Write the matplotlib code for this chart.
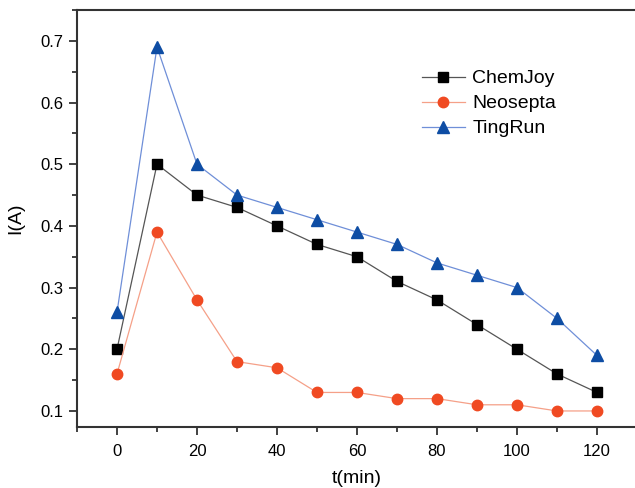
import matplotlib
matplotlib.use("Agg")
import matplotlib.pyplot as plt
from matplotlib.ticker import MultipleLocator

# data
t_min = [0, 10, 20, 30, 40, 50, 60, 70, 80, 90, 100, 110, 120]
chemjoy = [0.20, 0.50, 0.45, 0.43, 0.40, 0.37, 0.35, 0.31, 0.28, 0.24, 0.20, 0.16, 0.13]
neosepta = [0.16, 0.39, 0.28, 0.18, 0.17, 0.13, 0.13, 0.12, 0.12, 0.11, 0.11, 0.10, 0.10]
tingrun = [0.26, 0.69, 0.50, 0.45, 0.43, 0.41, 0.39, 0.37, 0.34, 0.32, 0.30, 0.25, 0.19]

plt.rcParams['font.family'] = ['Liberation Sans', 'DejaVu Sans']

fig = plt.figure(figsize=(6.35, 4.88), dpi=100)
ax = fig.add_axes([77 / 635, 1 - 427 / 488, 560 / 635, 417 / 488])

ax.plot(t_min, chemjoy, color='#555555', lw=0.9, marker='s', ms=6.5,
        mfc='black', mec='black', label='ChemJoy')
ax.plot(t_min, neosepta, color='#F5A088', lw=0.9, marker='o', ms=7.5,
        mfc='#F04A22', mec='#F04A22', label='Neosepta')
ax.plot(t_min, tingrun, color='#6F8FD8', lw=0.9, marker='^', ms=8,
        mfc='#0E4DA4', mec='#0E4DA4', label='TingRun')

ax.set_xlim(-10, 130)
ax.set_ylim(0.074, 0.75)
ax.xaxis.set_major_locator(MultipleLocator(20))
ax.xaxis.set_minor_locator(MultipleLocator(10))
ax.yaxis.set_major_locator(MultipleLocator(0.1))
ax.yaxis.set_minor_locator(MultipleLocator(0.05))
ax.tick_params(which='major', direction='out', length=6, width=1.3,
               labelsize=12, color='#333333')
ax.tick_params(which='minor', direction='out', length=3.5, width=1.3,
               color='#333333')
ax.tick_params(axis='x', pad=6)
for s in ax.spines.values():
    s.set_linewidth(1.5)
    s.set_color('#333333')

ax.set_xlabel('t(min)', fontsize=14, labelpad=8)
ax.set_ylabel('I(A)', fontsize=14, labelpad=12)

ax.legend(loc='upper left', bbox_to_anchor=(0.598, 0.88), frameon=False,
          fontsize=14, handlelength=2.25, handletextpad=0.36,
          labelspacing=0.38, borderpad=0)

fig.savefig('out.png', dpi=100)
